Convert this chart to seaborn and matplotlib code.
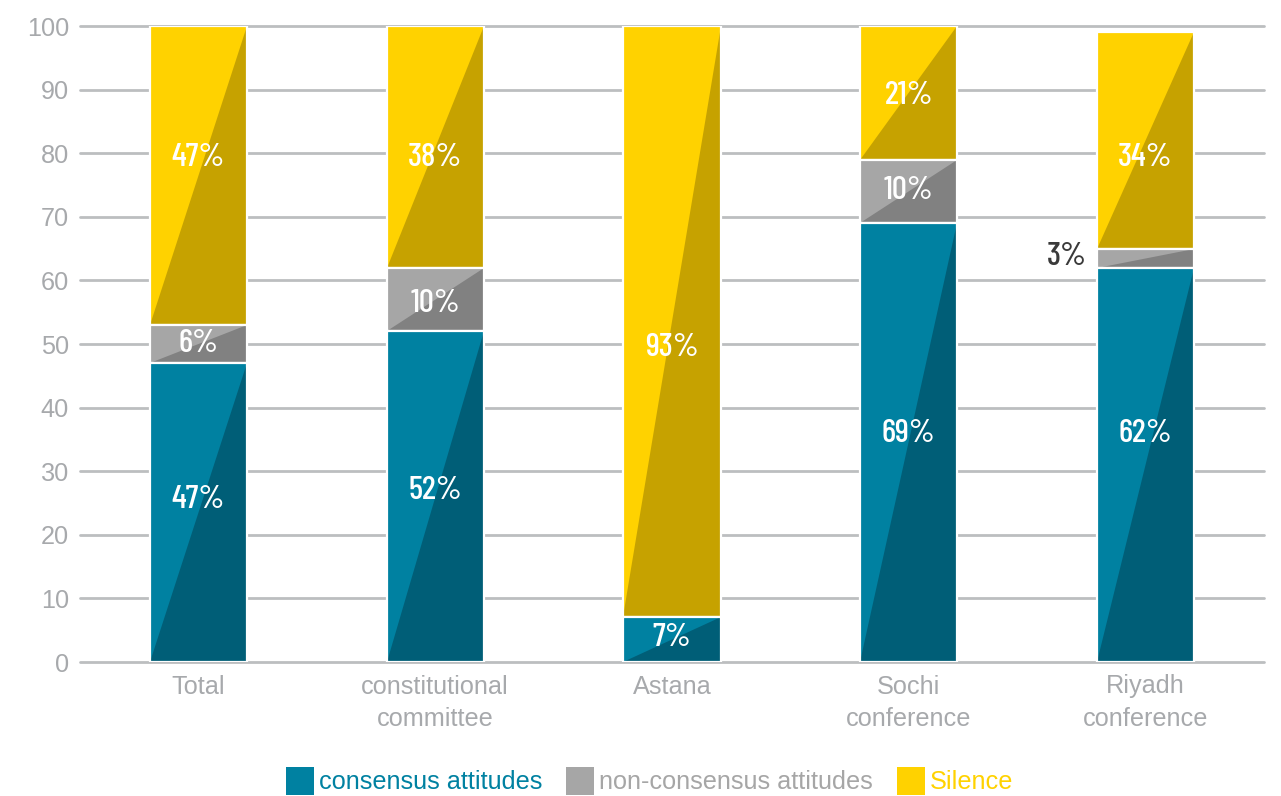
import matplotlib
matplotlib.use("Agg")
import matplotlib.pyplot as plt
from matplotlib.patches import Polygon, Rectangle, Patch
import numpy as np
import pandas as pd
import seaborn as sns

# Share of attitudes per negotiation track (percent)
categories = ["Total", "constitutional\ncommittee", "Astana", "Sochi\nconference", "Riyadh\nconference"]
consensus = [47, 52, 7, 69, 62]
non_consensus = [6, 10, 0, 10, 3]
silence = [47, 38, 93, 21, 34]
series_names = ["consensus attitudes", "non-consensus attitudes", "Silence"]
y_ticks = [0, 10, 20, 30, 40, 50, 60, 70, 80, 90, 100]

# Label anchor heights inside each segment
label_y = {
    "consensus attitudes": [25.5, 27, 3.9, 36, 36],
    "non-consensus attitudes": [50, 56.4, None, 74.2, 63.7],
    "Silence": [79.3, 79.3, 49.5, 89, 79.3],
}

light = {"consensus attitudes": "#0081A1", "non-consensus attitudes": "#A6A6A6", "Silence": "#FFD200"}
dark = {"consensus attitudes": "#005E77", "non-consensus attitudes": "#818181", "Silence": "#C6A200"}
text_grey = "#A7A9AC"
grid_grey = "#BCBEC0"

sns.set_theme(style="white")
plt.rcParams["font.family"] = ["Liberation Sans", "DejaVu Sans"]

fig = plt.figure(figsize=(12.81, 7.96), dpi=100)
ax = fig.add_axes([80 / 1281, 1 - 662 / 796, (1264 - 80) / 1281, (662 - 26) / 796])

values = np.array([consensus, non_consensus, silence], dtype=float)
tops = np.cumsum(values, axis=0)
bottoms = tops - values

df = pd.DataFrame({"category": categories})
bar_width = 0.41

# Cumulative bars drawn top-down so each lower segment sits over the one above
order = [2, 1, 0]
for layer, i in enumerate(order):
    name = series_names[i]
    df["cum"] = tops[i]
    n_before = len(ax.patches)
    sns.barplot(data=df, x="category", y="cum", color=light[name], width=bar_width,
                saturation=1, linewidth=0, ax=ax, zorder=2 + layer)
    bars = ax.patches[n_before:]
    for j, bar in enumerate(bars):
        if values[i][j] <= 0:
            bar.set_visible(False)
            continue
        x0 = bar.get_x()
        x1 = x0 + bar.get_width()
        b, t = bottoms[i][j], tops[i][j]
        ax.add_patch(Polygon([(x0, b), (x1, b), (x1, t)], closed=True,
                             facecolor=dark[name], edgecolor="none", zorder=2 + layer + 0.1))
        ax.add_patch(Rectangle((x0, b), x1 - x0, t - b, fill=False, edgecolor="white",
                               linewidth=1.6, zorder=2 + layer + 0.2))

# Value labels
label_font = dict(family=["Barlow Condensed", "Roboto Condensed", "Oswald", "DejaVu Sans"],
                  fontweight="medium", fontsize=24)
for i, name in enumerate(series_names):
    for j in range(len(categories)):
        v = values[i][j]
        if v <= 0:
            continue
        y = label_y[name][j]
        if name == "non-consensus attitudes" and v < 5:
            ax.text(j - bar_width / 2 - 0.042, y, f"{v:.0f}%", ha="right", va="center",
                    color="#3A3A3A", zorder=10, **label_font)
        else:
            ax.text(j, y, f"{v:.0f}%", ha="center", va="center", color="white",
                    zorder=10, **label_font)

ax.set_xlim(-0.5, len(categories) - 0.5)
ax.set_ylim(0, 100)
ax.set_yticks(y_ticks)
ax.set_yticklabels([str(t) for t in y_ticks])
ax.set_xticks(range(len(categories)))
ax.set_xticklabels(categories, linespacing=1.45)
ax.yaxis.grid(True, color=grid_grey, linewidth=2.0, zorder=0)
ax.set_axisbelow(True)
ax.xaxis.grid(False)
for gl in ax.get_ygridlines():
    gl.set_clip_on(False)
for s in ax.spines.values():
    s.set_visible(False)
ax.set_xlabel("")
ax.set_ylabel("")
ax.tick_params(axis="both", length=0, labelsize=18.2, labelcolor=text_grey)
ax.tick_params(axis="y", pad=8)
ax.tick_params(axis="x", pad=9)

handles = [Patch(facecolor=light[n], edgecolor="none") for n in series_names]
fig.legend(handles, series_names, loc="center", bbox_to_anchor=(0.507, 1 - 781 / 796),
           ncol=3, frameon=False, fontsize=18.2, handlelength=1.1, handleheight=1.35,
           handletextpad=0.2, columnspacing=0.95,
           labelcolor=[light["consensus attitudes"], "#A6A6A6", light["Silence"]])

fig.savefig("out.png", dpi=100)
